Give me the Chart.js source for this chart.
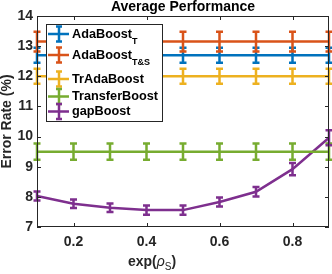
<!DOCTYPE html>
<html>
<head>
<meta charset="utf-8">
<script src="https://cdn.jsdelivr.net/npm/chart.js@4.4.1/dist/chart.umd.min.js"></script>
<style>
  html, body { margin: 0; padding: 0; background: #fff; }
</style>
</head>
<body>
<canvas id="chart" width="332" height="274"></canvas>
<script>
// data
const xValues = [0.1, 0.2, 0.3, 0.4, 0.5, 0.6, 0.7, 0.8, 0.9];
const xTicks = [0.2, 0.4, 0.6, 0.8];
const yTicks = [7, 8, 9, 10, 11, 12, 13, 14];

const adaBoostT = [12.7, 12.7, 12.7, 12.7, 12.7, 12.7, 12.7, 12.7, 12.7];
const adaBoostTErr = [0.25, 0.25, 0.25, 0.25, 0.25, 0.25, 0.25, 0.25, 0.25];
const adaBoostTS = [13.15, 13.15, 13.15, 13.15, 13.15, 13.15, 13.15, 13.15, 13.15];
const adaBoostTSErr = [0.33, 0.33, 0.33, 0.33, 0.33, 0.33, 0.33, 0.33, 0.33];
const trAdaBoost = [12.0, 12.0, 12.0, 12.0, 12.0, 12.0, 12.0, 12.0, 12.0];
const trAdaBoostErr = [0.25, 0.25, 0.25, 0.25, 0.25, 0.25, 0.25, 0.25, 0.25];
const transferBoost = [9.5, 9.5, 9.5, 9.5, 9.5, 9.5, 9.5, 9.5, 9.5];
const transferBoostErr = [0.27, 0.27, 0.27, 0.27, 0.27, 0.27, 0.27, 0.27, 0.27];
const gapBoost = [8.03, 7.77, 7.64, 7.56, 7.56, 7.83, 8.17, 8.92, 9.96];
const gapBoostErr = [0.15, 0.14, 0.14, 0.15, 0.15, 0.15, 0.16, 0.2, 0.25];

const seriesNames = ["AdaBoost", "AdaBoost", "TrAdaBoost", "TransferBoost", "gapBoost"];
const seriesSubs = ["T", "T&S", "", "", ""];
const seriesColors = ["#0072BD", "#D95319", "#EDB120", "#77AC30", "#7E2F8E"];

const FONT = '"Liberation Sans", Arial, Helvetica, sans-serif';
const AXIS = "#262626";

function makeSet(i, vals, errs) {
    return {
        label: seriesNames[i] + seriesSubs[i],
        data: xValues.map((x, k) => ({ x: x, y: vals[k] })),
        err: errs,
        borderColor: seriesColors[i],
        borderWidth: 2.5,
        pointRadius: 0,
        tension: 0,
        fill: false,
        clip: false
    };
}

// error bars drawn with the chart scales
const errorBars = {
    id: "errorBars",
    afterDatasetsDraw(chart) {
        const { ctx, scales: { x, y } } = chart;
        chart.data.datasets.forEach(ds => {
            ctx.save();
            ctx.strokeStyle = ds.borderColor;
            ctx.lineWidth = 2.5;
            ds.data.forEach((p, i) => {
                const px = x.getPixelForValue(p.x);
                const top = y.getPixelForValue(p.y + ds.err[i]);
                const bot = y.getPixelForValue(p.y - ds.err[i]);
                ctx.beginPath();
                ctx.moveTo(px, top); ctx.lineTo(px, bot);
                ctx.moveTo(px - 3.5, top); ctx.lineTo(px + 3.5, top);
                ctx.moveTo(px - 3.5, bot); ctx.lineTo(px + 3.5, bot);
                ctx.stroke();
            });
            ctx.restore();
        });
    }
};

// box, inward ticks, titles and the legend (matlab look)
const frame = {
    id: "frame",
    afterDraw(chart) {
        const { ctx, chartArea: a, scales: { x, y } } = chart;
        ctx.save();
        ctx.strokeStyle = AXIS;
        ctx.lineWidth = 1;
        ctx.strokeRect(a.left + 0.5, a.top + 0.5, a.right - a.left - 1, a.bottom - a.top - 1);
        ctx.beginPath();
        xTicks.forEach(v => {
            const px = Math.round(x.getPixelForValue(v)) + 0.5;
            ctx.moveTo(px, a.bottom); ctx.lineTo(px, a.bottom - 4);
            ctx.moveTo(px, a.top); ctx.lineTo(px, a.top + 4);
        });
        yTicks.forEach(v => {
            const py = Math.round(y.getPixelForValue(v)) + 0.5;
            ctx.moveTo(a.left, py); ctx.lineTo(a.left + 4, py);
            ctx.moveTo(a.right, py); ctx.lineTo(a.right - 4, py);
        });
        ctx.stroke();

        // title
        ctx.fillStyle = "#000";
        ctx.font = "bold 14px " + FONT;
        ctx.textAlign = "center";
        ctx.textBaseline = "middle";
        ctx.fillText("Average Performance", 183, 7);

        // y label
        ctx.save();
        ctx.fillStyle = AXIS;
        ctx.translate(7, (a.top + a.bottom) / 2);
        ctx.rotate(-Math.PI / 2);
        ctx.fillText("Error Rate (%)", 0, 0);
        ctx.restore();

        // x label exp(rho_S)
        ctx.fillStyle = AXIS;
        ctx.textAlign = "left";
        ctx.textBaseline = "alphabetic";
        let tx = 128;
        const base = 266;
        ctx.font = "bold 14px " + FONT;
        ctx.fillText("exp(", tx, base); tx += ctx.measureText("exp(").width;
        ctx.font = "italic 14px " + FONT;
        ctx.fillText("\u03C1", tx, base); tx += ctx.measureText("\u03C1").width;
        ctx.font = "10px " + FONT;
        ctx.fillText("S", tx, base + 4); tx += ctx.measureText("S").width;
        ctx.font = "bold 14px " + FONT;
        ctx.fillText(")", tx, base);

        // legend
        const rows = [34, 55, 79, 96.5, 111.5];
        ctx.fillStyle = "#fff";
        ctx.fillRect(46.5, 24.5, 116, 97);
        ctx.strokeStyle = AXIS;
        ctx.lineWidth = 1;
        ctx.strokeRect(46.5, 24.5, 116, 97);
        seriesNames.forEach((name, i) => {
            const ry = rows[i];
            ctx.strokeStyle = seriesColors[i];
            ctx.lineWidth = 2.5;
            ctx.beginPath();
            ctx.moveTo(48, ry); ctx.lineTo(69, ry);
            ctx.moveTo(59, ry - 7.5); ctx.lineTo(59, ry + 7.5);
            ctx.moveTo(56, ry - 7.5); ctx.lineTo(62, ry - 7.5);
            ctx.moveTo(56, ry + 7.5); ctx.lineTo(62, ry + 7.5);
            ctx.stroke();
            ctx.fillStyle = "#000";
            ctx.textBaseline = "middle";
            ctx.font = "bold 12.7px " + FONT;
            ctx.fillText(name, 72, ry);
            if (seriesSubs[i]) {
                const w = ctx.measureText(name).width;
                ctx.font = "bold 9px " + FONT;
                ctx.fillText(seriesSubs[i], 72 + w, ry + 8);
            }
        });
        ctx.restore();
    }
};

new Chart(document.getElementById("chart"), {
    type: "line",
    data: {
        datasets: [
            makeSet(0, adaBoostT, adaBoostTErr),
            makeSet(1, adaBoostTS, adaBoostTSErr),
            makeSet(2, trAdaBoost, trAdaBoostErr),
            makeSet(3, transferBoost, transferBoostErr),
            makeSet(4, gapBoost, gapBoostErr)
        ]
    },
    options: {
        responsive: false,
        animation: false,
        layout: { padding: { top: 16, right: 3, left: 0, bottom: 0 } },
        plugins: { legend: { display: false }, tooltip: { enabled: false } },
        scales: {
            x: {
                type: "linear",
                min: 0.1,
                max: 0.9,
                afterFit: s => { s.height = 47; },
                afterBuildTicks: s => { s.ticks = xTicks.map(v => ({ value: v })); },
                grid: { display: false, drawTicks: false },
                border: { display: false },
                ticks: {
                    padding: 7,
                    color: AXIS,
                    font: { family: FONT, size: 14, weight: "bold" },
                    callback: v => v.toFixed(1)
                }
            },
            y: {
                min: 7,
                max: 14,
                afterFit: s => { s.width = 37; },
                afterBuildTicks: s => { s.ticks = yTicks.map(v => ({ value: v })); },
                grid: { display: false, drawTicks: false },
                border: { display: false },
                ticks: {
                    padding: 4,
                    color: AXIS,
                    font: { family: FONT, size: 14, weight: "bold" }
                }
            }
        }
    },
    plugins: [errorBars, frame]
});
</script>
</body>
</html>
